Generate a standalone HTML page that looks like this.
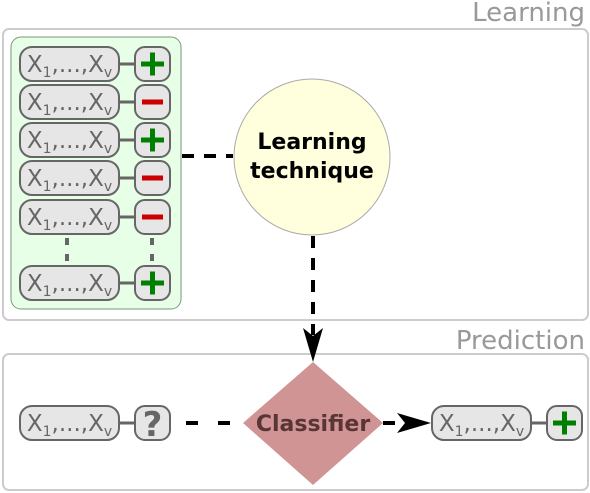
<!DOCTYPE html>
<html><head><meta charset="utf-8"><style>
html,body{margin:0;padding:0;background:#fff;width:590px;height:493px;overflow:hidden}
text{font-family:"DejaVu Sans","Liberation Sans",sans-serif}
</style></head><body>
<svg width="590" height="493" viewBox="0 0 590 493" xmlns="http://www.w3.org/2000/svg">
<defs>
<g id="pill">
<rect x="0" y="-17" width="99" height="34" rx="12" fill="#e6e6e6" stroke="#666" stroke-width="2"/>
<text x="49.5" y="8" text-anchor="middle" font-size="23" fill="#666">X<tspan font-size="14" dy="5">1</tspan><tspan dy="-5">,...,X</tspan><tspan font-size="14" dy="5">v</tspan></text>
<line x1="99" y1="0" x2="115" y2="0" stroke="#666" stroke-width="3"/>
<rect x="115" y="-17" width="35" height="34" rx="10" fill="#e6e6e6" stroke="#666" stroke-width="2"/>
</g>
<g id="plus"><rect x="121" y="-2.5" width="23" height="5" fill="#008000"/><rect x="130" y="-11.5" width="5" height="23" fill="#008000"/></g>
<g id="minus"><rect x="122" y="-2.5" width="21" height="5" fill="#cc0000"/></g>
</defs>
<text x="585" y="21" text-anchor="end" font-size="26" fill="#999">Learning</text>
<rect x="3" y="29" width="585" height="291" rx="6" fill="#fff" stroke="#ccc" stroke-width="2"/>
<rect x="11" y="37" width="170" height="272" rx="10" fill="#e6ffe6" stroke="#7a9a7a" stroke-width="1"/>
<g transform="translate(20,64)"><use href="#pill"/><use href="#plus"/></g>
<g transform="translate(20,102)"><use href="#pill"/><use href="#minus"/></g>
<g transform="translate(20,140)"><use href="#pill"/><use href="#plus"/></g>
<g transform="translate(20,178)"><use href="#pill"/><use href="#minus"/></g>
<g transform="translate(20,217)"><use href="#pill"/><use href="#minus"/></g>
<g transform="translate(20,283)"><use href="#pill"/><use href="#plus"/></g>
<line x1="67" y1="238" x2="67" y2="264" stroke="#666" stroke-width="4" stroke-dasharray="7,9"/>
<line x1="152" y1="238" x2="152" y2="264" stroke="#666" stroke-width="4" stroke-dasharray="7,9"/>
<line x1="182" y1="156" x2="233" y2="156" stroke="#000" stroke-width="4" stroke-dasharray="12,10"/>
<circle cx="312" cy="157" r="78" fill="#ffffdd" stroke="#aaa" stroke-width="1"/>
<text x="312" y="149" text-anchor="middle" font-size="22" font-weight="bold" fill="#000">Learning</text>
<text x="312" y="178" text-anchor="middle" font-size="22" font-weight="bold" fill="#000">technique</text>
<line x1="313" y1="236" x2="313" y2="335" stroke="#000" stroke-width="4" stroke-dasharray="12,10"/>
<text x="585" y="349" text-anchor="end" font-size="26" fill="#999">Prediction</text>
<rect x="3" y="354" width="585" height="136" rx="6" fill="#fff" stroke="#ccc" stroke-width="2"/>
<polygon points="303,328 313,362 323,328 313,336" fill="#000"/>
<g transform="translate(20,423)"><use href="#pill"/><text x="132.5" y="13" text-anchor="middle" font-size="34" font-weight="bold" fill="#666">?</text></g>
<line x1="172" y1="423" x2="248" y2="423" stroke="#000" stroke-width="4" stroke-dasharray="12,20" stroke-dashoffset="-14"/>
<polygon points="313,362 383,423 313,485 243,423" fill="#d09494"/>
<text x="313" y="431" text-anchor="middle" font-size="22" font-weight="bold" fill="#5a3535">Classifier</text>
<line x1="383" y1="423" x2="395" y2="423" stroke="#000" stroke-width="4"/>
<polygon points="397,413 431,423 397,433 405,423" fill="#000"/>
<g transform="translate(432,423)"><use href="#pill"/><use href="#plus"/></g>
</svg>
</body></html>
